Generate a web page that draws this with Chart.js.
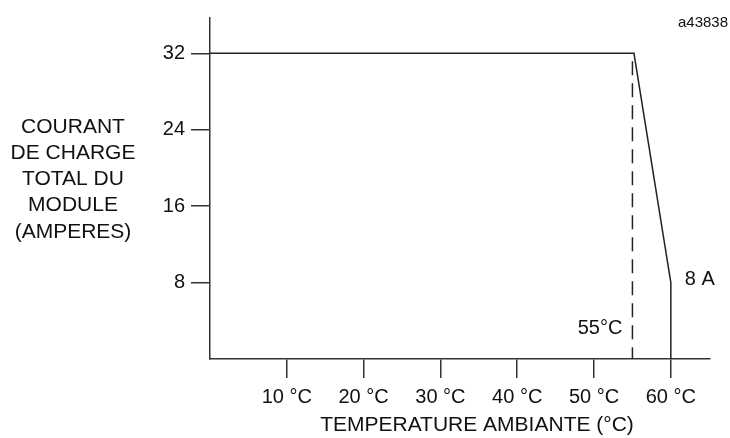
<!DOCTYPE html>
<html>
<head>
<meta charset="utf-8">
<script src="https://cdn.jsdelivr.net/npm/chart.js@4/dist/chart.umd.min.js"></script>
<style>
  html, body { margin: 0; padding: 0; background: #fff; }
  #wrap { width: 730px; height: 438px; }
</style>
</head>
<body>
<div id="wrap"><canvas id="deratingChart" width="730" height="438"></canvas></div>
<script>
// DATA
const tempPoints = [0, 55.2, 60, 60];
const currentPoints = [32, 32, 8, 0];
const limitTemp = [55, 55];
const limitCurrent = [32, 0];
const xTicks = [10, 20, 30, 40, 50, 60];
const yTicks = [8, 16, 24, 32];
const yTitleLines = ["COURANT", "DE CHARGE", "TOTAL DU", "MODULE", "(AMPERES)"];
const xTitle = "TEMPERATURE AMBIANTE (\u00B0C)";
const figId = "a43838";
const endLabel = "8 A";
const limitLabel = "55\u00B0C";

const FONT = "'Liberation Sans', Arial, sans-serif";
const INK = "#222";

// text that sits outside the axes
const annotations = {
  id: "annotations",
  afterDraw(chart) {
    const ctx = chart.ctx;
    const xs = chart.scales.x;
    const ys = chart.scales.y;
    ctx.save();
    ctx.fillStyle = "#111";
    ctx.textBaseline = "middle";

    // y title, horizontal lines
    ctx.font = "21px " + FONT;
    ctx.textAlign = "center";
    yTitleLines.forEach(function (line, i) {
      ctx.fillText(line, 73, 127 + i * 26.2);
    });

    // x title
    ctx.fillText(xTitle, 477, 425);

    // labels at the curve
    ctx.font = "20px " + FONT;
    ctx.textAlign = "left";
    ctx.fillText(endLabel, xs.getPixelForValue(tempPoints[2]) + 14, ys.getPixelForValue(currentPoints[2]) - 3);
    ctx.textAlign = "right";
    ctx.fillText(limitLabel, xs.getPixelForValue(limitTemp[0]) - 10, ys.getPixelForValue(3.2));

    // figure id
    ctx.font = "15px " + FONT;
    ctx.fillText(figId, 728, 23);
    ctx.restore();
  }
};

new Chart(document.getElementById("deratingChart"), {
  type: "scatter",
  data: {
    datasets: [{
      data: tempPoints.map(function (t, i) { return { x: t, y: currentPoints[i] }; }),
      showLine: true,
      borderColor: INK,
      borderWidth: 1.5,
      pointRadius: 0,
      tension: 0
    }, {
      data: limitTemp.map(function (t, i) { return { x: t, y: limitCurrent[i] }; }),
      showLine: true,
      borderColor: INK,
      borderWidth: 1.5,
      borderDash: [14, 8],
      borderDashOffset: 14,
      pointRadius: 0
    }]
  },
  options: {
    responsive: false,
    animation: false,
    layout: { padding: { top: 13, right: 20, left: 0, bottom: 0 } },
    plugins: {
      legend: { display: false },
      tooltip: { enabled: false }
    },
    scales: {
      x: {
        type: "linear",
        min: 0,
        max: 65.1,
        afterBuildTicks: function (scale) {
          scale.ticks = xTicks.map(function (v) { return { value: v }; });
        },
        afterFit: function (scale) { scale.height = 79; },
        border: { display: true, color: "#333", width: 1.5 },
        grid: { drawOnChartArea: false, drawTicks: true, tickLength: 19, color: "#333", lineWidth: 1.5 },
        ticks: {
          autoSkip: false,
          maxRotation: 0,
          padding: 7,
          color: "#111",
          font: { family: FONT, size: 20 },
          callback: function (v) { return v + " \u00B0C"; }
        }
      },
      y: {
        type: "linear",
        min: 0,
        max: 35.7,
        afterBuildTicks: function (scale) {
          scale.ticks = yTicks.map(function (v) { return { value: v }; });
        },
        afterFit: function (scale) { scale.width = 210; },
        border: { display: true, color: "#333", width: 1.5 },
        grid: { drawOnChartArea: false, drawTicks: true, tickLength: 19, color: "#333", lineWidth: 1.5 },
        ticks: {
          padding: 6,
          color: "#111",
          font: { family: FONT, size: 20 }
        }
      }
    }
  },
  plugins: [annotations]
});
</script>
</body>
</html>
